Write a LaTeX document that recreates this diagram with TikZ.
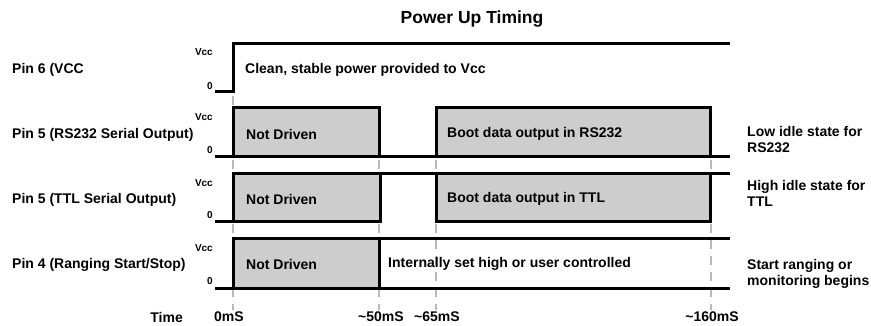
\documentclass[tikz,border=0pt]{standalone}
\usepackage{fontspec}
\setmainfont{Liberation Sans}
\begin{document}
\begin{tikzpicture}[x=1pt,y=-1pt,
  sig/.style={line width=3pt,line join=miter},
  boxs/.style={sig,fill={rgb,255:red,205;green,205;blue,205}},
  guide/.style={line width=2pt,draw={rgb,255:red,185;green,185;blue,185},dash pattern=on 9pt off 7pt},
  lbl/.style={font=\bfseries\fontsize{14}{16}\selectfont,inner sep=0pt},
  lvl/.style={font=\bfseries\fontsize{10}{11}\selectfont,inner sep=0pt,anchor=east},
  ttl/.style={font=\bfseries\fontsize{17.5}{19}\selectfont,inner sep=0pt}]
\useasboundingbox (0,0) rectangle (871,326);
% guide lines
\draw[guide] (233,96) -- (233,310);
\draw[guide] (379,160) -- (379,310);
\draw[guide] (436,160) -- (436,310);
\draw[guide] (711,160) -- (711,310);
% title
\node[ttl] (title) at (472,19) {Power Up Timing};
% row 1
\draw[sig] (215,92) -- (233,92) -- (233,44) -- (730,44);
\node[lvl] (v1) at (213,52) {Vcc};
\node[lvl] (z1) at (213,86) {0};
\node[lbl,anchor=west] (p6) at (12,70) {Pin 6 (VCC};
\node[lbl,anchor=west] (t1) at (245,70) {Clean, stable power provided to Vcc};
% row 2
\draw[sig] (215,157) -- (730,157);
\draw[boxs] (233,157) rectangle (379,108);
\draw[boxs] (436,157) rectangle (710,108);
\node[lvl] (v2) at (213,117) {Vcc};
\node[lvl] (z2) at (213,150) {0};
\node[lbl,anchor=west] (p5a) at (12,135) {Pin 5 (RS232 Serial Output)};
\node[lbl,anchor=west] (nd2) at (246,134) {Not Driven};
\node[lbl,anchor=west] (bd2) at (447,134) {Boot data output in RS232};
\node[lbl,anchor=west,align=left] (r2) at (747,140) {Low idle state for\\RS232};
% row 3
\draw[sig] (215,222) -- (233,222);
\draw[sig] (379,174) -- (436,174);
\draw[sig] (710,174) -- (730,174);
\draw[boxs] (233,222) rectangle (380,174);
\draw[boxs] (436,222) rectangle (710,174);
\node[lvl] (v3) at (213,183) {Vcc};
\node[lvl] (z3) at (213,215) {0};
\node[lbl,anchor=west] (p5b) at (12,200) {Pin 5 (TTL Serial Output)};
\node[lbl,anchor=west] (nd3) at (246,199) {Not Driven};
\node[lbl,anchor=west] (bd3) at (447,199) {Boot data output in TTL};
\node[lbl,anchor=west,align=left] (r3) at (747,193) {High idle state for\\TTL};
% row 4
\draw[sig] (215,288) -- (730,288);
\draw[sig] (379,239) -- (730,239);
\draw[boxs] (233,288) rectangle (379,239);
\node[lvl] (v4) at (213,248) {Vcc};
\node[lvl] (z4) at (213,281) {0};
\node[lbl,anchor=west] (p4) at (12,265) {Pin 4 (Ranging Start/Stop)};
\node[lbl,anchor=west] (nd4) at (246,264) {Not Driven};
\node[lbl,anchor=west] (is4) at (388,264) {Internally set high or user controlled};
\node[lbl,anchor=west,align=left] (r4) at (747,274) {Start ranging or\\monitoring begins};
% time axis
\node[lbl,anchor=east] (time) at (183,317) {Time};
\node[lbl] (t0) at (229,317) {0mS};
\node[lbl] (t50) at (381,317) {\textasciitilde50mS};
\node[lbl] (t65) at (437,317) {\textasciitilde65mS};
\node[lbl] (t160) at (712,317) {\textasciitilde160mS};
\end{tikzpicture}
\end{document}
